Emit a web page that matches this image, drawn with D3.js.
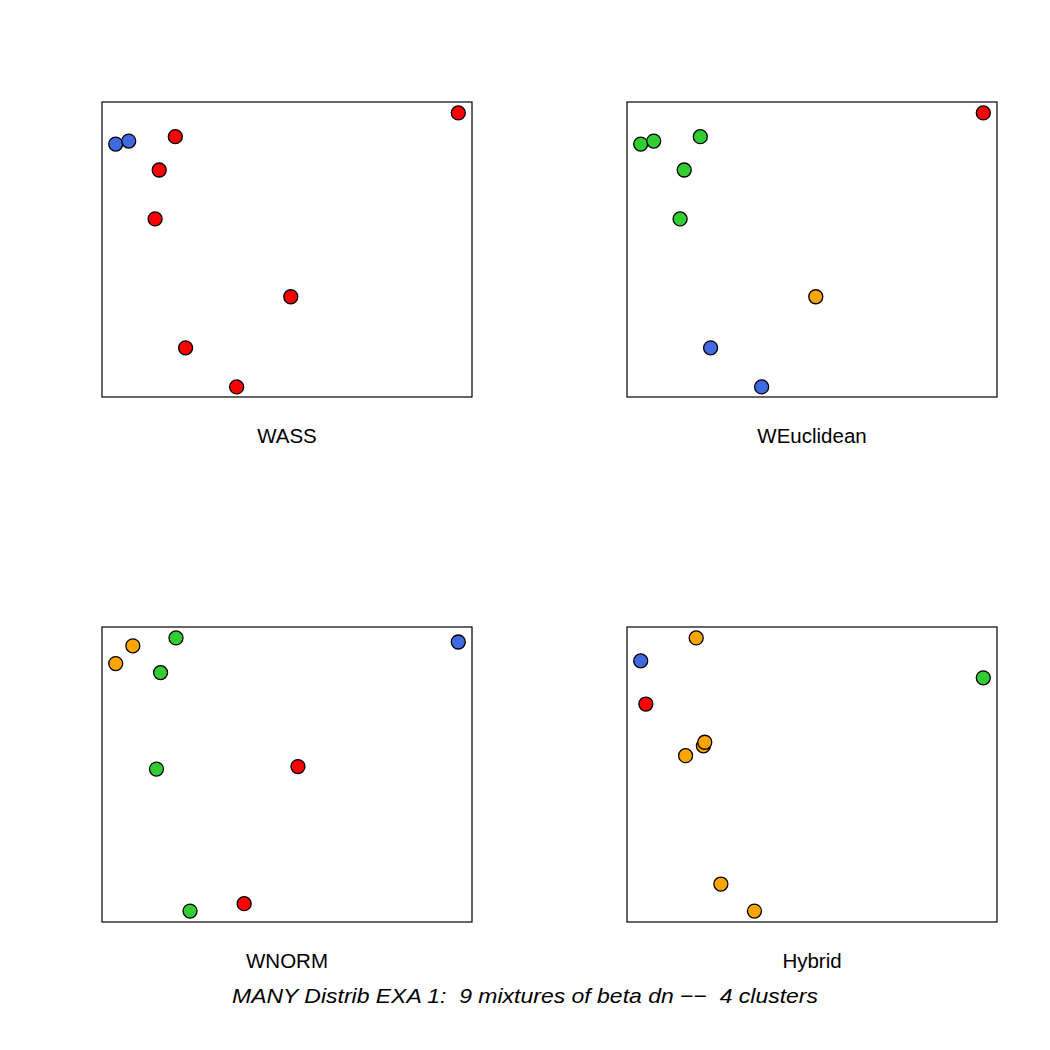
<!DOCTYPE html>
<html>
<head>
<meta charset="utf-8">
<script src="https://cdn.jsdelivr.net/npm/d3@7"></script>
<style>
  body { margin: 0; background: #fff; }
  text { font-family: "Liberation Sans", Arial, sans-serif; }
</style>
</head>
<body>
<svg id="chart"></svg>
<script>
// panel names, in the order they are drawn (row by row)
const panelNames = ["WASS", "WEuclidean", "WNORM", "Hybrid"];
const title = "MANY Distrib EXA 1:  9 mixtures of beta dn \u2212\u2212  4 clusters";

// point coordinates (no axes in the picture, so normalised 0..1 per panel)
const xsTop = [1.000, 0.000, 0.038, 0.174, 0.127, 0.115, 0.511, 0.204, 0.353];
const ysTop = [1.000, 0.886, 0.897, 0.913, 0.791, 0.612, 0.327, 0.140, -0.003];

const xsWnorm = [1.000, 0.050, 0.176, 0.000, 0.131, 0.119, 0.532, 0.375, 0.217];
const ysWnorm = [0.985, 0.971, 1.000, 0.906, 0.873, 0.520, 0.529, 0.027, 0.000];

const xsHybrid = [0.162, 0.000, 1.000, 0.015, 0.183, 0.187, 0.131, 0.234, 0.332];
const ysHybrid = [1.000, 0.916, 0.854, 0.758, 0.605, 0.618, 0.569, 0.099, 0.000];

// cluster ids per point
const clWass = [1, 2, 2, 1, 1, 1, 1, 1, 1];
const clWeucl = [1, 3, 3, 3, 3, 3, 4, 2, 2];
const clWnorm = [2, 4, 3, 4, 3, 3, 1, 1, 3];
const clHybrid = [4, 2, 3, 1, 4, 4, 4, 4, 4];

const clusterColors = ["#FF0000", "#4169E1", "#32CD32", "#FFA500"];

const panels = [
    { name: panelNames[0], xs: xsTop, ys: ysTop, cl: clWass },
    { name: panelNames[1], xs: xsTop, ys: ysTop, cl: clWeucl },
    { name: panelNames[2], xs: xsWnorm, ys: ysWnorm, cl: clWnorm },
    { name: panelNames[3], xs: xsHybrid, ys: ysHybrid, cl: clHybrid }
];

const width = 1050, height = 1050;
const boxW = 370, boxH = 295;
const boxX = [102, 627], boxY = [102, 627];

const svg = d3.select("#chart")
    .attr("width", width)
    .attr("height", height);

// R style 4% padding around the data range
const x = d3.scaleLinear().domain([-0.04, 1.04]).range([0, boxW]);
const y = d3.scaleLinear().domain([-0.04, 1.04]).range([boxH, 0]);

panels.forEach((p, i) => {
    const g = svg.append("g")
        .attr("transform", `translate(${boxX[i % 2]}, ${boxY[Math.floor(i / 2)]})`);

    g.append("rect")
        .attr("width", boxW)
        .attr("height", boxH)
        .attr("fill", "none")
        .attr("stroke", "#000")
        .attr("stroke-width", 1.2);

    g.selectAll("circle")
        .data(d3.range(p.xs.length))
        .enter()
        .append("circle")
        .attr("cx", d => x(p.xs[d]))
        .attr("cy", d => y(p.ys[d]))
        .attr("r", 7)
        .attr("fill", d => clusterColors[p.cl[d] - 1])
        .attr("stroke", "#000")
        .attr("stroke-width", 1.3);

    g.append("text")
        .attr("x", boxW / 2)
        .attr("y", boxH + 46)
        .attr("text-anchor", "middle")
        .style("font-size", "20.5px")
        .text(p.name);
});

svg.append("text")
    .attr("x", width / 2)
    .attr("y", 1002.5)
    .attr("text-anchor", "middle")
    .attr("textLength", 586)
    .attr("lengthAdjust", "spacingAndGlyphs")
    .style("font-size", "21px")
    .style("font-style", "italic")
    .style("white-space", "pre")
    .text(title);
</script>
</body>
</html>
